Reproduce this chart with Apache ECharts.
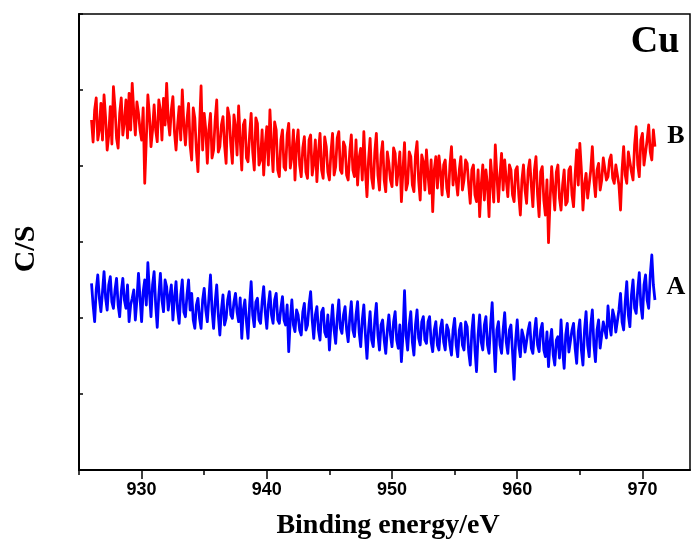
<!DOCTYPE html>
<html>
<head>
<meta charset="utf-8">
<script src="https://cdn.jsdelivr.net/npm/echarts@6/dist/echarts.min.js"></script>
<style>html,body{margin:0;padding:0;background:#fff;}#c{width:692px;height:547px;}</style>
</head>
<body>
<div id="c"></div>
<script>
// Binding energy sampling (eV): main samples at energyStart + i*energyStep,
// in-between samples at energyStart + energyStep/2 + i*energyStep
const energyStart = 926;
const energyStep = 0.25;
// Trace B (red), arbitrary intensity units
const intensityB = [
350,360,330,366.7,375,320,363.3,383.3,331.7,356.7,
335,370,376.7,386.7,335,356.7,330,286.7,375,323.3,
365,328.3,360,371.7,386.7,335,373.3,320,363.3,380,
325,366.7,310,351.7,298.3,384,356.7,306.7,356.7,320,
370,323.3,353.3,306.7,353.3,306.7,343.3,364,300,350,
308.3,356.7,300,346.7,310,295,343.3,360,298.3,340,
293.3,340,300,346.7,313.3,290,340,293.3,333.3,291.7,
335,306.7,288.3,336.7,291.7,323.3,290,336.7,303.3,338.3,
296.7,323.3,290,335,293.3,285,321.7,338.3,273.3,331.7,
281.7,336.7,280,328.3,278.3,306.7,283.3,316.7,300,268.3,
327.3,286.7,313.3,278.3,328.3,270,308.3,320,276.7,258.3,
313.3,314,275,310,273.3,323.3,310,275,313.3,290,
306.7,266.7,305,268.3,253.3,305,300,253.3,290,325,
268.3,316.7,310,273.3,300,268.3,303.3,255,305,266.7,
310,263.3,313.3,253.3,303.3,255,227.3,303.3,260,305,
260,300,268.3,303.3,263.3,320,326.7,260,296.7,270,
323.3,273.3,306.7,290,313.3,293.3,315,286.7,306.7,260,
323.3,286.7,316.7,290,343.3,293.3,336.7,303.3,345,310,
323.3
];
const intensityBMid = [
328,372,340,330,352,335,326,362,322,372,
348,332,340,358,368,340,362,330,355,340,
340,370,330,345,350,360,338,345,330,345,
350,325,362,320,342,320,340,340,312,350,
318,345,325,362,325,355,315,330,345,312,
335,318,352,305,340,325,305,325,348,300,
330,303,335,302,340,325,305,322,298,330,
295,330,318,300,333,298,318,295,332,300,
328,295,318,300,330,312,290,300,310,292,
318,295,315,290,318,290,322,285,318,300,
280,318,285,315,290,315,280,295,310,300,
282,298,305,282,305,285,290,300,280,310,
285,300,275,300,285,270,285,310,268,295,
295,280,290,305,275,300,275,290,280,300,
285,300,275,298,270,290,270,280,298,272,
285,265,300,275,295,285,300,285,272,300,
290,300,280,312,290,310,292,305,285,300,
295,318,298,325,305,330,305,330,318,340
];
// Trace A (blue)
const intensityA = [
186.7,148.3,195,158.3,198.3,160,193.3,161.7,191.7,153.3,
191.7,161.7,148.3,171.7,150,196.7,148.3,190,207.3,153.3,
198.3,142.7,196.7,158.3,183.3,173.3,150,188.3,146.7,190,
153.3,190,176.7,141.7,171.7,141.7,181.7,148.3,195,141.7,
185,135,175,151.7,178.3,151.7,176.7,148.3,131.7,170,
131.7,188.3,143.3,171.7,146.7,183.3,141.7,178.3,146.7,176.7,
146.7,173.3,145,118.3,170,138.3,155,135,166.7,145,
178.3,131.7,163.3,130,161.7,133.3,120,165,126.7,170,
136.7,163.3,128.3,168.3,133.3,168.3,123.3,165,111.7,158.3,
123.3,166.7,120,150,116.7,155,123.3,158.3,121.7,108.3,
179.3,120,158.3,115,160,125,153.3,126.7,153.3,118.3,
148.3,120,150,120,140,115,151.7,113.3,146.7,120,
143.3,105,155,98.3,155,120,153.3,116.7,167.3,98.3,
148.3,116.7,157.3,116.7,145,90.7,150,113.3,133.3,116.7,
147.3,116.7,151.7,118.3,146.7,113.3,103.3,140.7,105,133.3,
150,101.7,146.7,120,146.7,106.7,150,105,158.3,113.3,
160,108.3,150,120,150,164,135,153.3,136.7,176.7,
140,188.3,143.3,190,156.7,197.3,151.7,195,161.7,215,
170
];
const intensityAMid = [
165,180,172,178,172,185,168,180,165,178,
170,185,165,180,170,172,178,165,178,185,
165,175,170,190,160,185,172,160,175,158,
175,160,150,165,152,170,160,172,160,168,
155,160,145,170,155,168,158,172,160,148,
165,155,168,150,168,158,165,155,170,150,
162,150,165,150,145,160,140,158,140,165,
150,155,140,158,138,155,145,140,152,142,
155,140,152,140,155,138,150,135,140,130,
150,135,145,130,140,135,148,130,145,135,
135,145,128,145,132,148,130,148,128,140,
125,142,128,145,125,140,125,140,125,148,
118,138,120,135,128,145,125,145,130,140,
125,140,128,140,118,130,125,140,118,140,
122,138,125,140,120,138,128,115,130,112,
120,135,118,140,122,138,120,140,125,145,
125,140,122,148,132,145,160,138,160,148,
168,155,175,162,180,165,185,170,195,185
];
const majorTicks = [930, 940, 950, 960, 970];
const minorTicks = [925, 935, 945, 955, 965];
const xMin = 925, xMax = 973.8;
const yMin = 0, yMax = 456, yInterval = 76;

function pairs(main, mid) {
  const out = [];
  for (let i = 0; i < main.length; i++) {
    out.push([energyStart + energyStep * i, main[i]]);
    if (i < mid.length) out.push([energyStart + energyStep * (i + 0.5), mid[i]]);
  }
  return out;
}

const chart = echarts.init(document.getElementById('c'), null, {renderer: 'canvas'});
const serif = '"Liberation Serif","Times New Roman",serif';
const sans = '"Liberation Sans",Arial,sans-serif';
chart.setOption({
  animation: false,
  backgroundColor: '#fff',
  grid: {left: 79, right: 2, top: 14, bottom: 77, show: true, borderColor: '#000', borderWidth: 1.5, backgroundColor: 'transparent'},
  xAxis: [{
    type: 'value', min: xMin, max: xMax, position: 'bottom',
    axisLine: {show: true, onZero: false, lineStyle: {color: '#000', width: 2}},
    axisTick: {show: true, inside: false, length: 9, customValues: majorTicks, lineStyle: {color: '#000', width: 1.5}},
    axisLabel: {show: true, customValues: majorTicks, margin: 11, color: '#000', fontSize: 18, fontWeight: 'bold', fontFamily: sans},
    splitLine: {show: false}
  }, {
    type: 'value', min: xMin, max: xMax, position: 'bottom',
    axisLine: {show: false, onZero: false},
    axisTick: {show: true, inside: false, length: 5, customValues: minorTicks, lineStyle: {color: '#000', width: 1.5}},
    axisLabel: {show: false},
    splitLine: {show: false}
  }],
  yAxis: {
    type: 'value', min: yMin, max: yMax, interval: yInterval,
    axisLine: {show: true, onZero: false, lineStyle: {color: '#000', width: 2}},
    axisTick: {show: true, inside: true, length: 4, lineStyle: {color: '#000', width: 1.5}},
    axisLabel: {show: false},
    splitLine: {show: false}
  },
  series: [{
    name: 'B', type: 'line', data: pairs(intensityB, intensityBMid), showSymbol: false, symbol: 'none',
    lineStyle: {color: '#ff0000', width: 2.8, join: 'round'}, z: 3
  }, {
    name: 'A', type: 'line', data: pairs(intensityA, intensityAMid), showSymbol: false, symbol: 'none',
    lineStyle: {color: '#0000ff', width: 2.8, join: 'round'}, z: 3
  }],
  graphic: [
    {type: 'text', x: 655, y: 42, style: {text: 'Cu', font: 'bold 38px ' + serif, fill: '#000', align: 'center', verticalAlign: 'middle'}},
    {type: 'text', x: 676, y: 136, style: {text: 'B', font: 'bold 26px ' + serif, fill: '#000', align: 'center', verticalAlign: 'middle'}},
    {type: 'text', x: 676, y: 287, style: {text: 'A', font: 'bold 26px ' + serif, fill: '#000', align: 'center', verticalAlign: 'middle'}},
    {type: 'text', x: 388, y: 526, style: {text: 'Binding energy/eV', font: 'bold 28px ' + serif, fill: '#000', align: 'center', verticalAlign: 'middle'}},
    {type: 'text', x: 26, y: 249, rotation: Math.PI / 2, style: {text: 'C/S', font: 'bold 30px ' + serif, fill: '#000', align: 'center', verticalAlign: 'middle'}}
  ]
});
</script>
</body>
</html>
